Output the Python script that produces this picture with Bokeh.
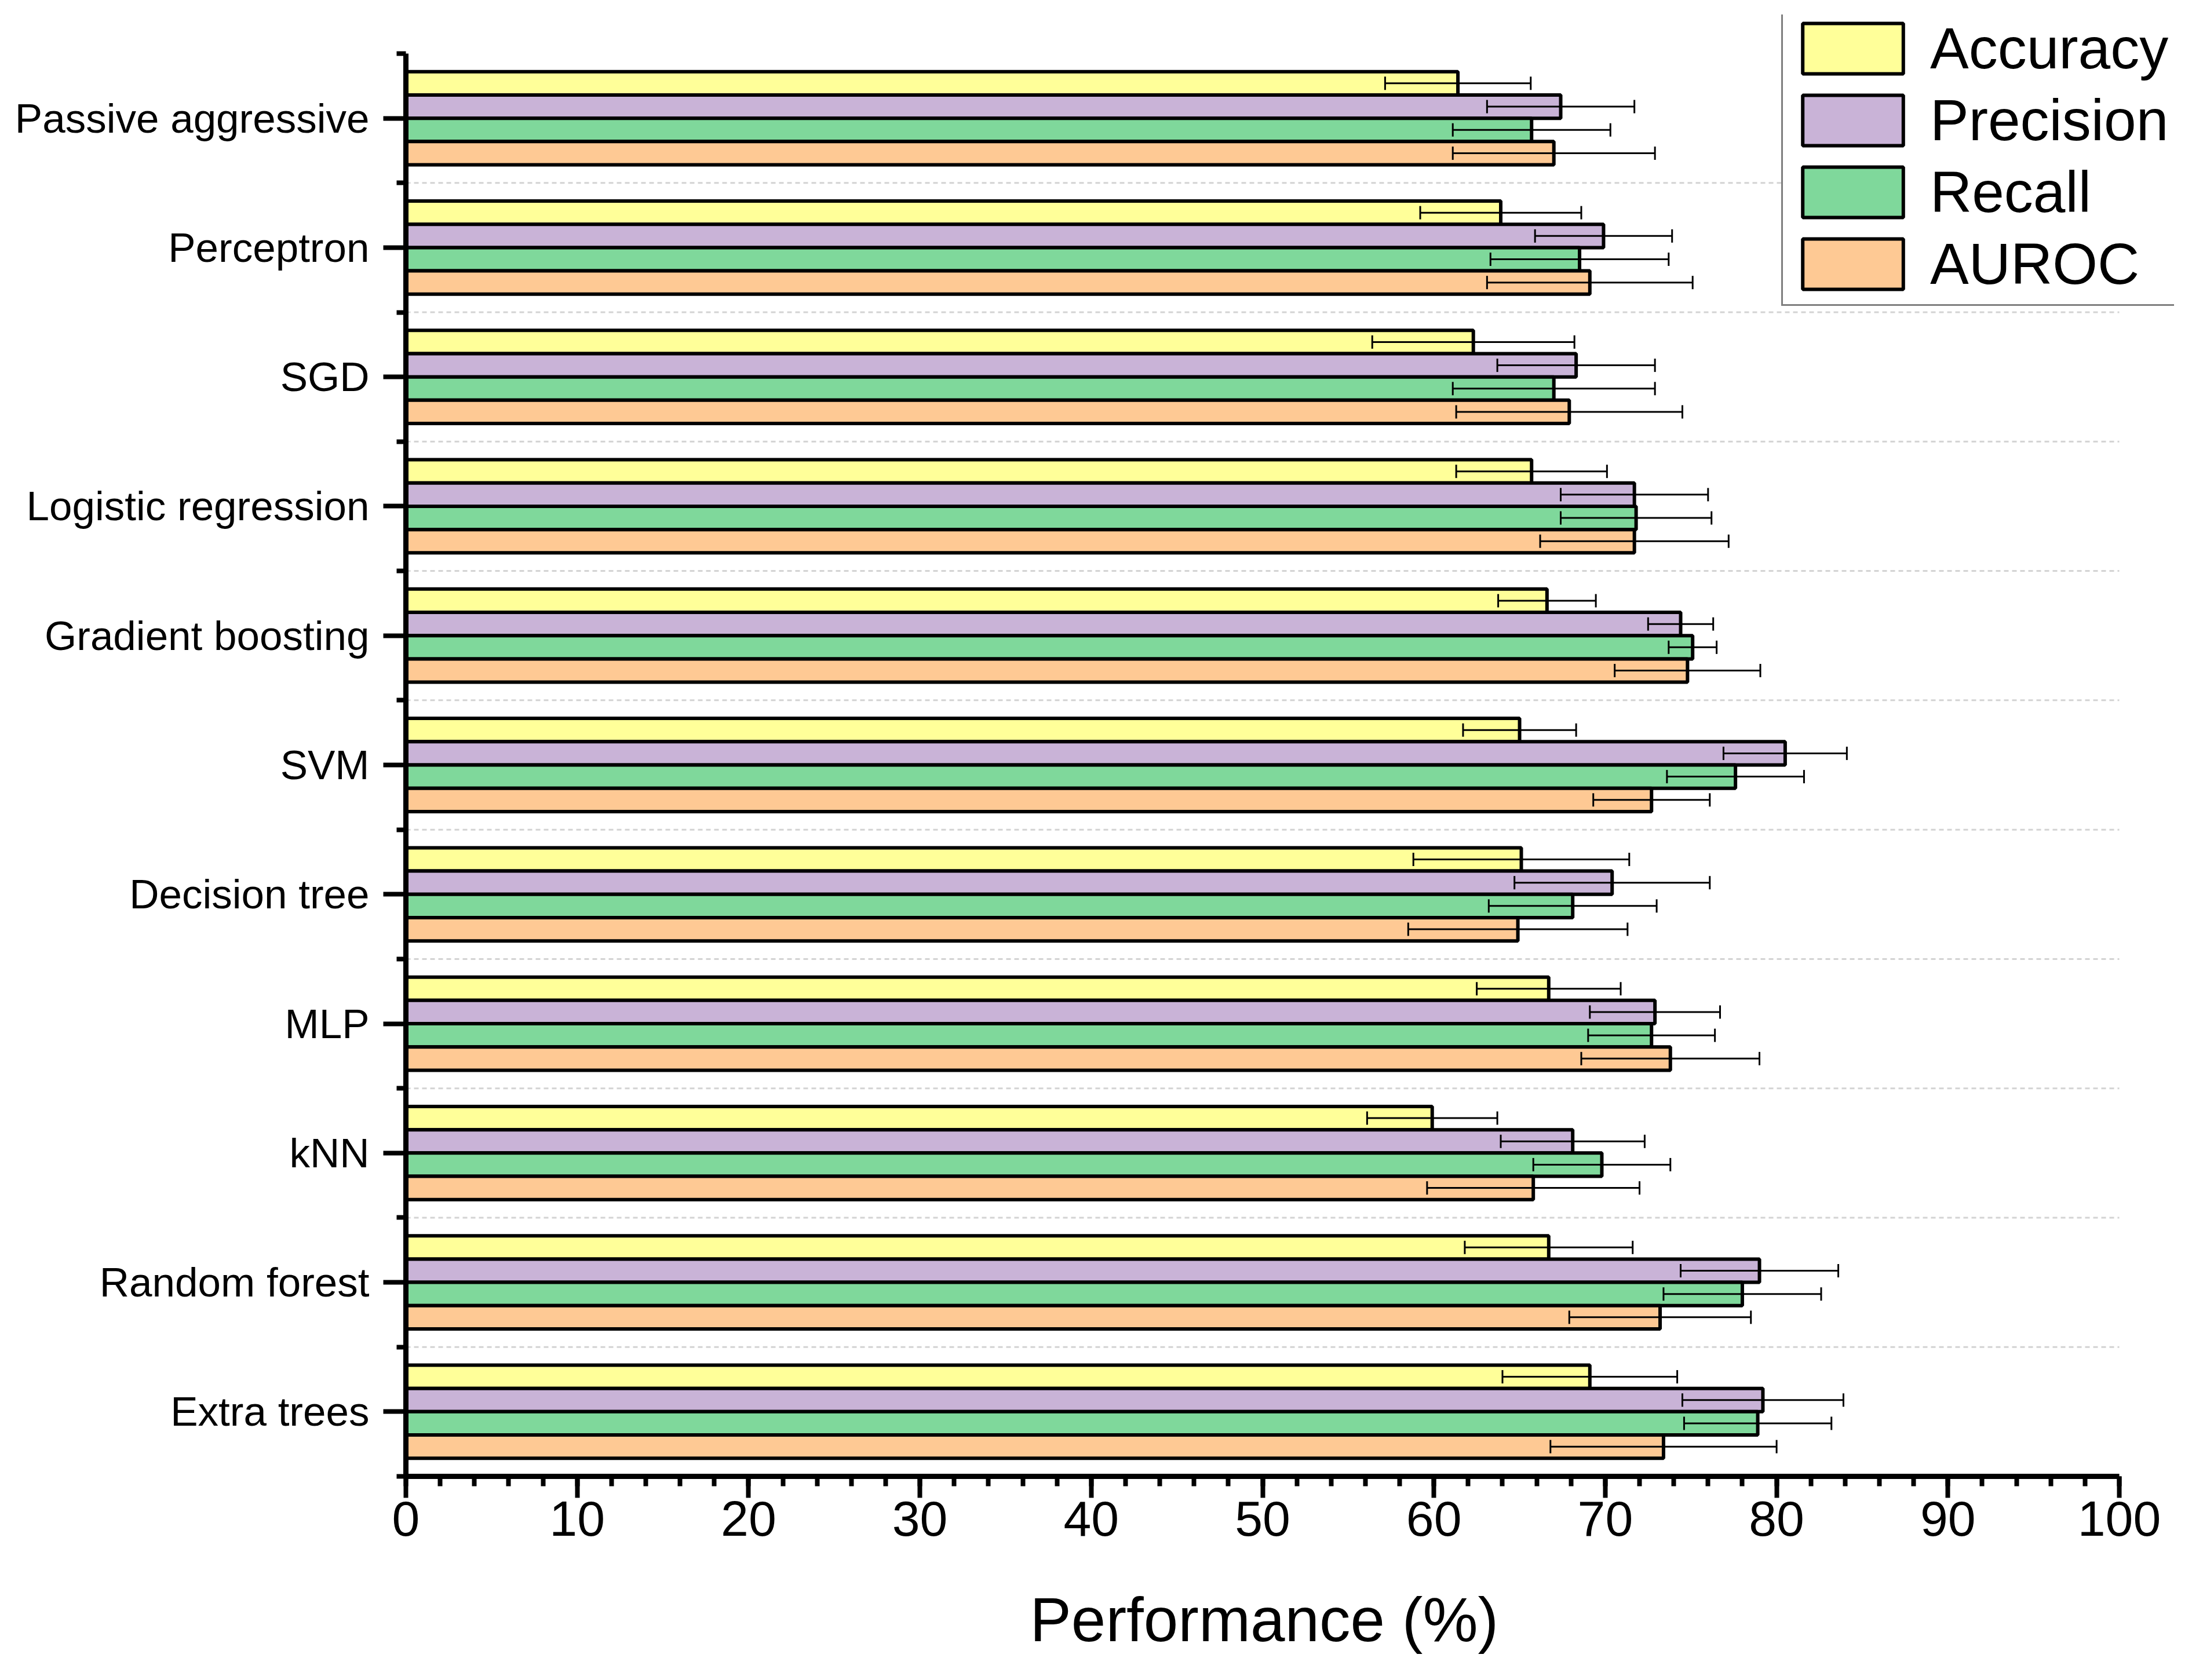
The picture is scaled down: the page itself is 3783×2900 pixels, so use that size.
import numpy as np
import pandas as pd
from bokeh.plotting import figure
from bokeh.models import (ColumnDataSource, Range1d, FixedTicker, SingleIntervalTicker,
                          Whisker, TeeHead, Legend, LegendItem, Title)
from bokeh.embed import file_html
from bokeh.resources import INLINE

# ---------------- data ----------------
models = ["Passive aggressive", "Perceptron", "SGD", "Logistic regression",
          "Gradient boosting", "SVM", "Decision tree", "MLP", "kNN",
          "Random forest", "Extra trees"]

metrics = ["Accuracy", "Precision", "Recall", "AUROC"]

accuracy = [61.4, 63.9, 62.3, 65.7, 66.6, 65.0, 65.1, 66.7, 59.9, 66.7, 69.1]
accuracy_err = [4.25, 4.7, 5.9, 4.4, 2.85, 3.3, 6.3, 4.2, 3.8, 4.9, 5.1]

precision = [67.4, 69.9, 68.3, 71.7, 74.4, 80.5, 70.4, 72.9, 68.1, 79.0, 79.2]
precision_err = [4.3, 4.0, 4.6, 4.3, 1.9, 3.6, 5.7, 3.8, 4.2, 4.6, 4.7]

recall = [65.7, 68.5, 67.0, 71.8, 75.1, 77.6, 68.1, 72.7, 69.8, 78.0, 78.9]
recall_err = [4.6, 5.2, 5.9, 4.4, 1.4, 4.0, 4.9, 3.7, 4.0, 4.6, 4.3]

auroc = [67.0, 69.1, 67.9, 71.7, 74.8, 72.7, 64.9, 73.8, 65.8, 73.2, 73.4]
auroc_err = [5.9, 6.0, 6.6, 5.5, 4.25, 3.4, 6.4, 5.2, 6.2, 5.3, 6.6]

x_min, x_max = 0, 100
x_ticks_interval = 10
x_title = "Performance (%)"

colors = ["#FFFF99", "#C9B3D7", "#7FD89B", "#FEC994"]

values = [accuracy, precision, recall, auroc]
errors = [accuracy_err, precision_err, recall_err, auroc_err]

# ---------------- layout ----------------
FONT = "Liberation Sans"
W, H = 3767, 2892
AX_LEFT, AX_RIGHT, AX_TOP, AX_BOTTOM = 700, 3657, 92, 2548     # axis extent in px
FR_RIGHT, FR_TOP = 3752, 25                                    # frame extends to hold legend

n = len(models)
slot = np.arange(n)[::-1]          # first model drawn at the top
bar_h = 0.18
offsets = [1.5 * bar_h, 0.5 * bar_h, -0.5 * bar_h, -1.5 * bar_h]

px_per_x = (AX_RIGHT - AX_LEFT) / (x_max - x_min)
px_per_y = (AX_BOTTOM - AX_TOP) / n
x_end = x_min + (FR_RIGHT - AX_LEFT) / px_per_x
y_end = (n - 0.5) + (AX_TOP - FR_TOP) / px_per_y

p = figure(width=W, height=H,
           x_range=Range1d(x_min, x_end), y_range=Range1d(-0.5, y_end),
           output_backend="svg", toolbar_location=None,
           min_border_left=AX_LEFT, min_border_right=W - FR_RIGHT,
           min_border_top=FR_TOP, min_border_bottom=H - AX_BOTTOM)
p.outline_line_color = None
p.background_fill_color = "white"
p.border_fill_color = "white"
p.xgrid.grid_line_color = None
p.ygrid.grid_line_color = None

# dashed separators between categories
sep = np.arange(n - 1) + 0.5
p.segment(x0=x_min, x1=x_max, y0=sep, y1=sep, line_color="#d3d3d3",
          line_width=3, line_dash="8 6", level="underlay")

renderers = []
for k, m in enumerate(metrics):
    df = pd.DataFrame({
        "model": models,
        "y": slot + offsets[k],
        "val": values[k],
    })
    r = p.hbar(y="y", left=0, right="val", height=bar_h, source=ColumnDataSource(df),
               fill_color=colors[k], line_color="black", line_width=6)
    renderers.append(r)

for k, m in enumerate(metrics):
    df = pd.DataFrame({
        "y": slot + offsets[k],
        "lo": np.array(values[k]) - np.array(errors[k]),
        "hi": np.array(values[k]) + np.array(errors[k]),
    })
    w = Whisker(source=ColumnDataSource(df), base="y", lower="lo", upper="hi",
                dimension="width", line_color="black", line_width=3, level="annotation",
                upper_head=TeeHead(size=23, line_width=3, line_color="black"),
                lower_head=TeeHead(size=23, line_width=3, line_color="black"))
    p.add_layout(w)

# ---------------- axes ----------------
xa = p.xaxis[0]
xa.bounds = (x_min, x_max)
xa.ticker = SingleIntervalTicker(interval=x_ticks_interval, num_minor_ticks=5)
xa.axis_line_width = 9
xa.major_tick_in = 0
xa.major_tick_out = 37
xa.minor_tick_in = 0
xa.minor_tick_out = 17
xa.major_tick_line_width = 8
xa.minor_tick_line_width = 8
xa.major_label_text_font = FONT
xa.major_label_text_font_size = "86px"
xa.major_label_text_color = "black"
xa.major_label_standoff = 6

# axis title under the 0-100 axis (the frame is wider to hold the legend)
xt = Title(text=x_title, align="left", offset=1077, vertical_align="top",
           text_font=FONT, text_font_size="107px", text_font_style="normal",
           text_color="black", standoff=0,
           padding=dict(left=0, right=0, top=82, bottom=0))
p.add_layout(xt, "below")

ya = p.yaxis[0]
ya.bounds = (-0.5, n - 0.5)
ya.ticker = FixedTicker(ticks=[int(s) for s in slot],
                        minor_ticks=[float(s) - 0.5 for s in range(0, n + 1)])
ya.major_label_overrides = {int(slot[i]): models[i] for i in range(n)}
ya.axis_line_width = 9
ya.major_tick_in = 0
ya.major_tick_out = 39
ya.minor_tick_in = 0
ya.minor_tick_out = 16
ya.major_tick_line_width = 8
ya.minor_tick_line_width = 8
ya.major_label_text_font = FONT
ya.major_label_text_font_size = "71px"
ya.major_label_text_color = "black"
ya.major_label_standoff = 24

# ---------------- legend ----------------
legend = Legend(
    items=[LegendItem(label=m, renderers=[renderers[k]]) for k, m in enumerate(metrics)],
    location=(3074 - AX_LEFT, AX_BOTTOM - 528),
    glyph_width=217, glyph_height=109,
    label_text_font=FONT, label_text_font_size="100px", label_text_color="black",
    label_standoff=25, spacing=9, padding=12, margin=0,
    border_line_color="black", border_line_width=3,
    background_fill_color="white", background_fill_alpha=1.0,
)
p.add_layout(legend)

open("out.html", "w").write(file_html(p, INLINE))
